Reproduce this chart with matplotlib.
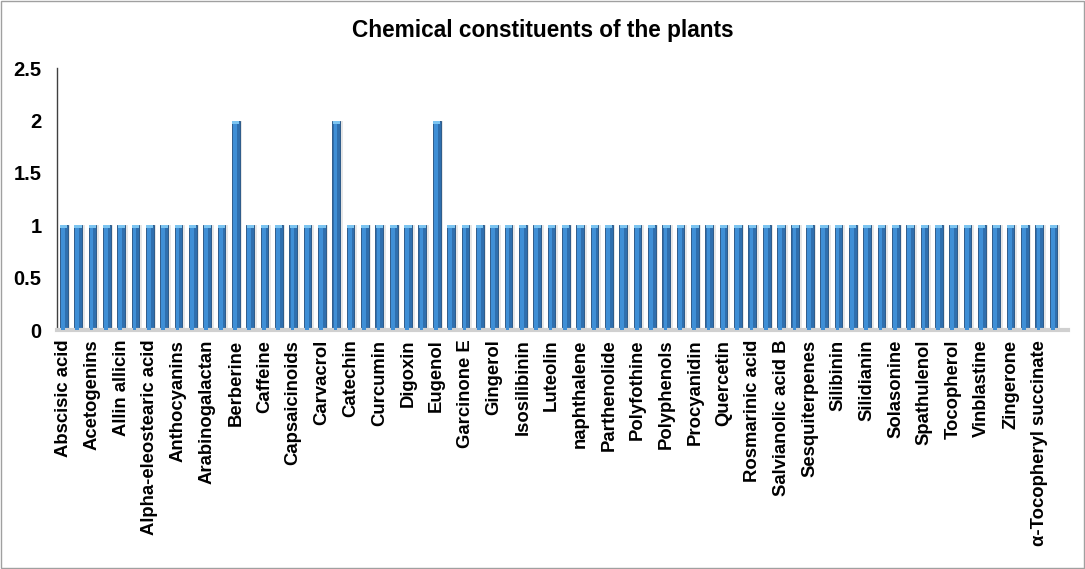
import numpy as np
import matplotlib
matplotlib.use("Agg")
import matplotlib.pyplot as plt

# only every other category carries a visible label in the source chart
labels = ["Abscisic acid", "Acetogenins", "Allin allicin", "Alpha-eleostearic acid",
          "Anthocyanins", "Arabinogalactan", "Berberine", "Caffeine", "Capsaicinoids",
          "Carvacrol", "Catechin", "Curcumin", "Digoxin", "Eugenol", "Garcinone E",
          "Gingerol", "Isosilibinin", "Luteolin", "naphthalene", "Parthenolide",
          "Polyfothine", "Polyphenols", "Procyanidin", "Quercetin", "Rosmarinic acid",
          "Salvianolic acid B", "Sesquiterpenes", "Silibinin", "Silidianin", "Solasonine",
          "Spathulenol", "Tocopherol", "Vinblastine", "Zingerone", "α-Tocopheryl succinate"]

# 70 bars, value 1 except three bars at 2
values = [1] * 70
values[12] = 2
values[19] = 2
values[26] = 2

plt.rcParams['font.family'] = ['Liberation Sans', 'DejaVu Sans']

fig = plt.figure(figsize=(10.85, 5.69), dpi=100)
ax = fig.add_axes([0.0525, 0.42, 0.9315, 0.46])

x = np.arange(len(values))
# soft shadow, main bar, highlight strip, top cap
ax.bar(x + 0.18, values, width=0.55, color="#e6e6e6", zorder=1)
ax.bar(x, values, width=0.54, color="#2f6fae", edgecolor="#1f4f80", linewidth=0.6, zorder=2)
ax.bar(x - 0.06, values, width=0.26, color="#3f8fd6", linewidth=0, zorder=3)
ax.bar(x, [0.03] * len(values), bottom=np.array(values) - 0.03, width=0.5,
       color="#7cc4f0", linewidth=0, zorder=4)

ax.set_xlim(-0.47, 69.98)
ax.set_ylim(0, 2.5)
ax.set_yticks([0, 0.5, 1, 1.5, 2, 2.5])
ax.set_yticklabels(["0", "0.5", "1", "1.5", "2", "2.5"], fontsize=14.5, fontweight="bold")
ax.tick_params(axis="y", length=0, pad=11)

ax.set_xticks(x[::2])
ax.set_xticklabels(labels, rotation=90, fontsize=13.3, fontweight="bold", va="top", ha="center")
ax.tick_params(axis="x", length=0, pad=7)

for s in ["top", "right"]:
    ax.spines[s].set_visible(False)
ax.spines["left"].set_color("#404040")
ax.spines["left"].set_linewidth(1)
ax.spines["bottom"].set_color("#d0d0d0")
ax.spines["bottom"].set_linewidth(3)

fig.text(0.5, 0.947, "Chemical constituents of the plants", ha="center", va="center",
         fontsize=16.3, fontweight="bold")

# chart border
fig.patches.append(plt.Rectangle((0.001, 0.001), 0.998, 0.998, transform=fig.transFigure,
                                 fill=False, edgecolor="#a0a0a0", linewidth=1))

fig.savefig("out.png", dpi=100)
